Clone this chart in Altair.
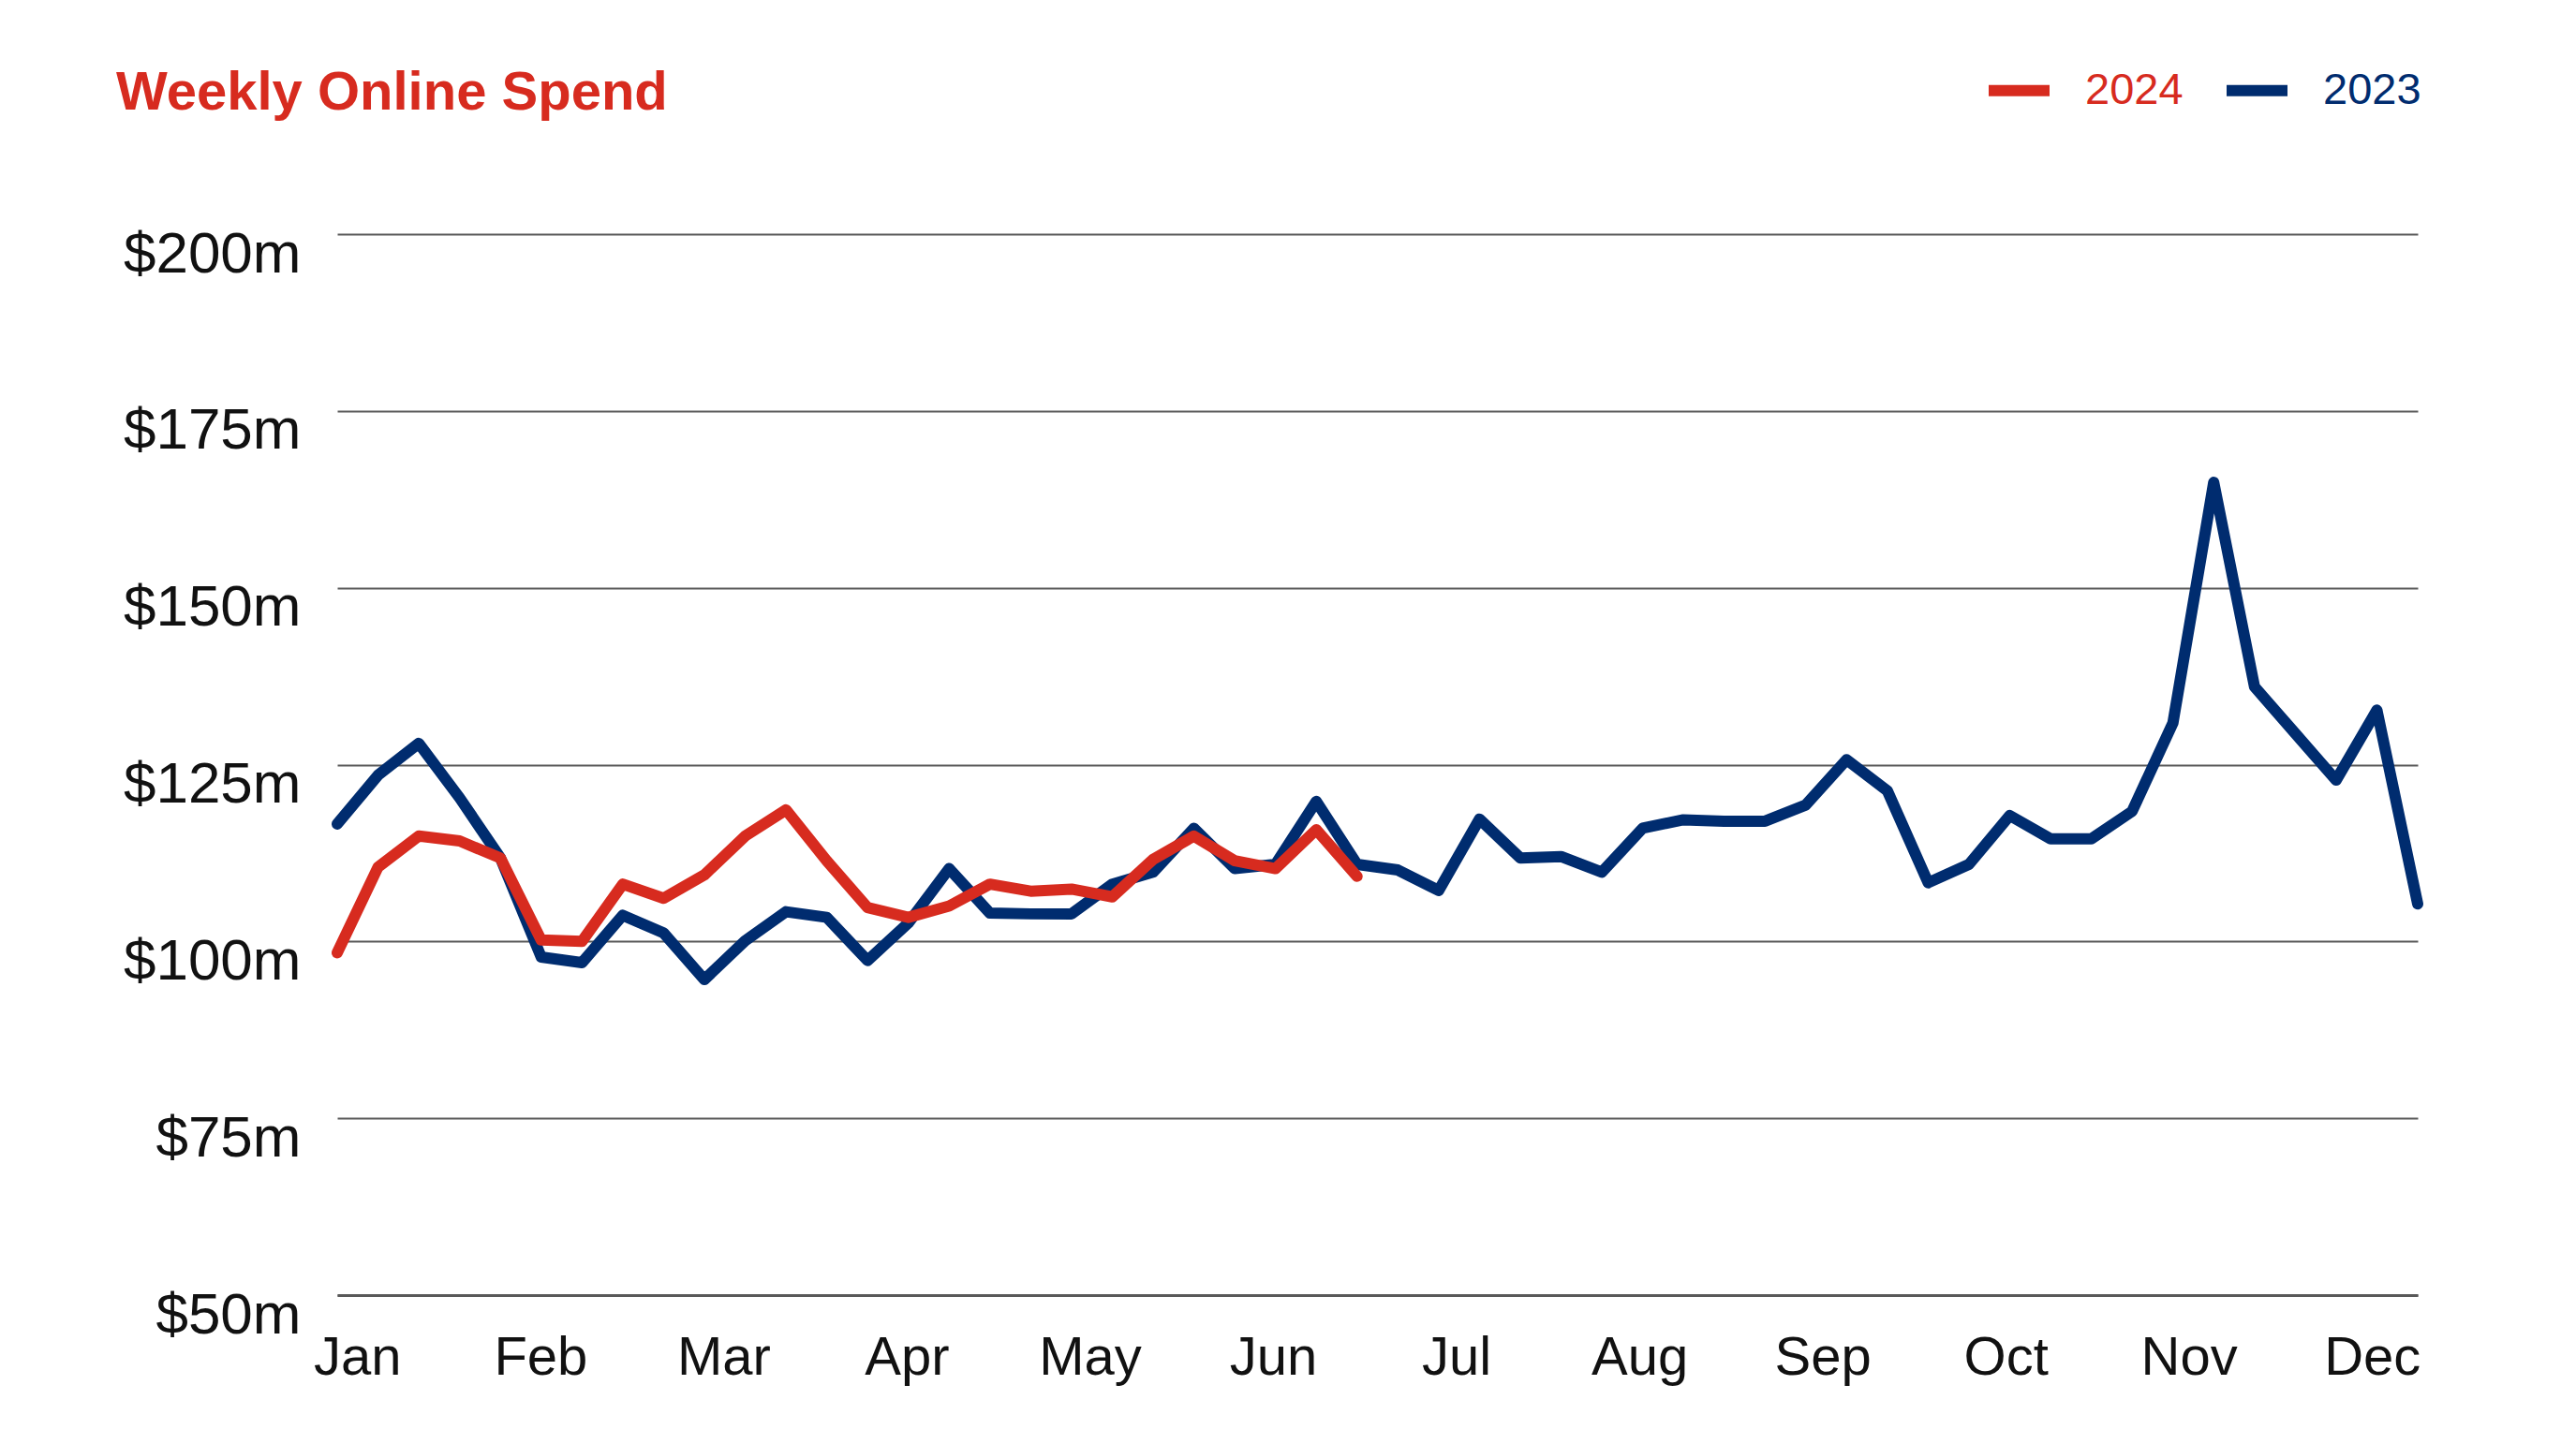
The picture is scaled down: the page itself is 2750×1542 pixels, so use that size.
import altair as alt
import pandas as pd

# ---- data ----
spend_2023 = [116.6, 123.5, 128.0, 120.3, 111.8, 97.8, 97.0, 103.7, 101.2, 94.6,
              100.1, 104.2, 103.4, 97.3, 102.6, 110.3, 104.0, 103.9, 103.9, 108.1,
              109.8, 116.0, 110.3, 110.9, 119.8, 110.9, 110.1, 107.2, 117.3, 111.8,
              112.0, 109.8, 116.0, 117.2, 117.0, 117.0, 119.3, 125.7, 121.3, 108.3,
              110.9, 117.8, 114.5, 114.5, 118.4, 130.9, 164.9, 136.0, 129.4, 122.8,
              132.7, 105.3]
spend_2024 = [98.4, 110.5, 114.9, 114.2, 111.8, 100.2, 100.0, 108.1, 106.1, 109.4,
              114.9, 118.6, 111.4, 104.8, 103.4, 105.0, 108.1, 107.1, 107.4, 106.3,
              111.6, 114.9, 111.4, 110.3, 115.8, 109.2]
months = ["Jan", "Feb", "Mar", "Apr", "May", "Jun",
          "Jul", "Aug", "Sep", "Oct", "Nov", "Dec"]
month_label_weeks = [0.49, 4.98, 9.47, 13.96, 18.45, 22.94,
                     27.43, 31.92, 36.41, 40.90, 45.39, 49.88]
y_ticks = [50, 75, 100, 125, 150, 175, 200]
years = ["2024", "2023"]
title_text = ["Weekly Online Spend"]

RED = "#D72B1F"
BLUE = "#002C6F"
FONT = "Liberation Sans"

rows = []
for i, v in enumerate(spend_2023):
    rows.append({"week": i, "spend": v, "year": "2023"})
for i, v in enumerate(spend_2024):
    rows.append({"week": i, "spend": v, "year": "2024"})
df = pd.DataFrame(rows)
title_df = pd.DataFrame({"t": title_text})

month_arr = "[" + ",".join("'%s'" % m for m in months) + "]"
label_expr = month_arr + "[round((datum.value - %s) / %s)]" % (
    month_label_weeks[0], round(month_label_weeks[1] - month_label_weeks[0], 2))

x_enc = alt.X(
    "week:Q",
    scale=alt.Scale(domain=[0, 51], nice=False, zero=False),
    axis=alt.Axis(
        values=month_label_weeks, labelExpr=label_expr, title=None,
        grid=False, ticks=False, domain=True, domainColor="#595959",
        domainWidth=3, labelFont=FONT, labelFontSize=58, labelColor="#111111",
        labelPadding=84, labelBaseline="alphabetic", labelAngle=0,
        labelFlush=False, labelOverlap=False, labelLimit=400,
    ),
)
y_enc = alt.Y(
    "spend:Q",
    scale=alt.Scale(domain=[50, 200], nice=False, zero=False),
    axis=alt.Axis(
        values=y_ticks, labelExpr="'$' + datum.value + 'm'", title=None,
        grid=True, gridColor="#595959", gridWidth=2, ticks=False, domain=False,
        labelFont=FONT, labelFontSize=62, labelColor="#111111",
        labelPadding=39, labelBaseline="alphabetic", labelOffset=40,
        labelLimit=400,
    ),
)
color_enc = alt.Color(
    "year:N",
    scale=alt.Scale(domain=years, range=[RED, BLUE]),
    legend=alt.Legend(
        orient="none", legendX=1757, legendY=-192, direction="horizontal",
        title=None, symbolType="stroke", symbolStrokeWidth=12, symbolSize=4225,
        labelFont=FONT, labelFontSize=47, labelOffset=32, columnPadding=22,
        padding=0,
        labelColor={"expr": "datum.value === '2024' ? '%s' : '%s'" % (RED, BLUE)},
    ),
)

line_kw = dict(strokeWidth=12, strokeCap="round", strokeJoin="round")
blue = alt.Chart(df).transform_filter("datum.year == '2023'").mark_line(**line_kw).encode(
    x=x_enc, y=y_enc, color=color_enc)
red = alt.Chart(df).transform_filter("datum.year == '2024'").mark_line(**line_kw).encode(
    x=x_enc, y=y_enc, color=color_enc)

title_layer = alt.Chart(title_df).mark_text(
    font=FONT, fontSize=58, fontWeight="bold", color=RED,
    align="left", baseline="alphabetic",
).encode(text="t:N", x=alt.value(-236), y=alt.value(-133))

chart = alt.layer(blue, red, title_layer).properties(
    width=2221, height=1133,
    background="white",
    autosize=alt.AutoSizeParams(type="none"),
    padding={"left": 352, "top": 242, "right": 160, "bottom": 150},
).configure_view(stroke="transparent", strokeWidth=0)

chart.save("out.html", embed_options={"renderer": "svg", "actions": False})
